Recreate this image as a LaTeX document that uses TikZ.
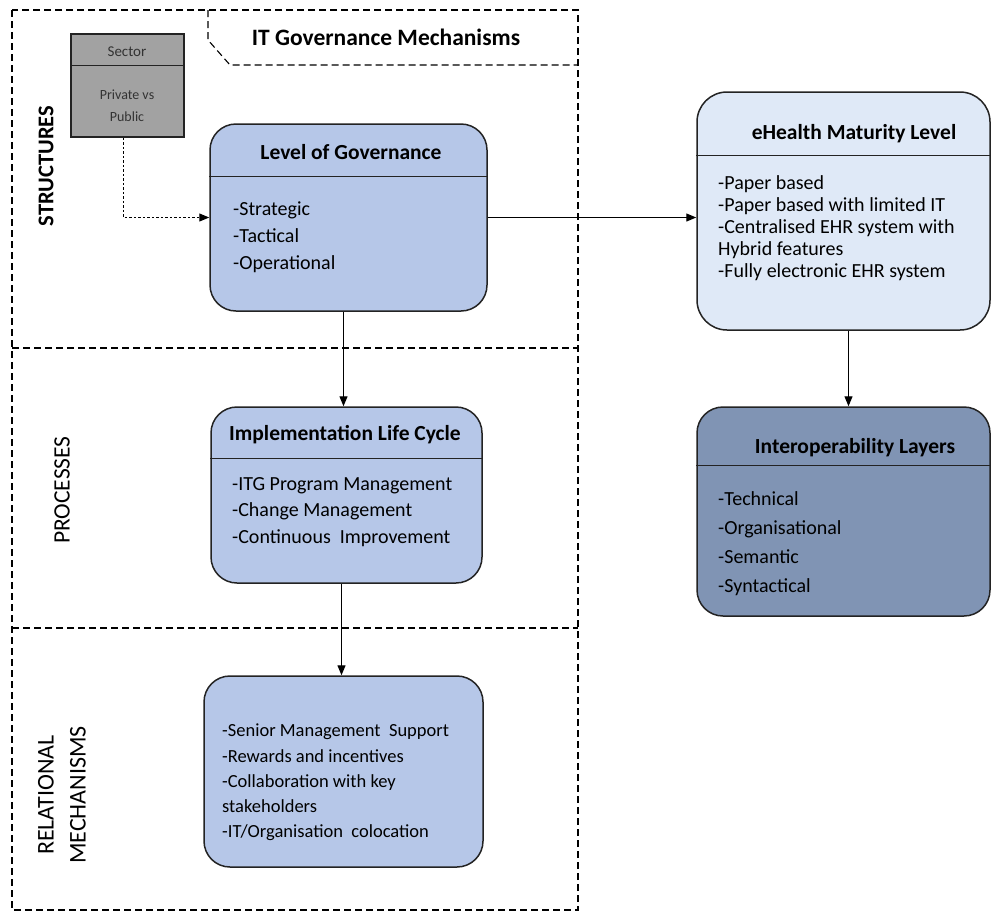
\documentclass[tikz,border=0pt]{standalone}
\usepackage{fontspec}
\setmainfont{Carlito}
\usetikzlibrary{arrows.meta}
\definecolor{boxblue}{RGB}{182,199,232}
\definecolor{lightblue}{RGB}{223,233,247}
\definecolor{slateblue}{RGB}{128,148,180}
\definecolor{sectorgray}{RGB}{162,162,162}
\definecolor{edge}{RGB}{35,35,35}
\tikzset{
  frame/.style={draw=black, line width=1.1pt, dash pattern=on 7pt off 4pt},
  roundbox/.style={draw=edge, line width=1.5pt, rounded corners=26pt, inner sep=0pt},
  hline/.style={draw=edge, line width=1.3pt},
  boxtitle/.style={inner sep=0pt, font=\fontsize{21.5}{24}\selectfont\bfseries},
  items/.style={anchor=north west, inner sep=0pt, align=left},
  sidelabel/.style={rotate=90, inner sep=0pt, align=center, font=\fontsize{24}{32}\selectfont},
  flow/.style={draw=black, line width=1.2pt, -{Triangle[length=10pt,width=8pt]}},
  dotflow/.style={draw=black, line width=1.1pt, dash pattern=on 2.5pt off 2pt, -{Triangle[length=10pt,width=8pt]}}
}
\begin{document}
\begin{tikzpicture}[x=1pt,y=-1pt]
\useasboundingbox (0,0) rectangle (992,922);
\fill[white] (0,0) rectangle (992,922);

% outer dashed frame and sections
\draw[frame] (12,10) rectangle (578,910);
\draw[frame] (208,10) -- (208,40) -- (230,65) -- (578,65);
\draw[frame] (12,348) -- (578,348);
\draw[frame] (12,628) -- (578,628);
\node[inner sep=0pt, font=\fontsize{23.5}{28}\selectfont\bfseries] (ittitle) at (386,37) {IT Governance Mechanisms};

% side labels
\node[sidelabel, font=\fontsize{22.5}{32}\selectfont\bfseries] (lstruct) at (46,166) {STRUCTURES};
\node[sidelabel, font=\fontsize{23.5}{32}\selectfont] (lproc) at (62,490) {PROCESSES};
\node[sidelabel] (lrel) at (62,795) {RELATIONAL\\MECHANISMS};

% sector box
\node[draw=edge, line width=1.5pt, fill=sectorgray, minimum width=113pt, minimum height=103pt, inner sep=0pt] (sector) at (127.5,85.5) {};
\draw[hline] ([yshift=-32pt]sector.north west) -- ([yshift=-32pt]sector.north east);
\node[inner sep=0pt, text=black!80, font=\fontsize{15}{18}\selectfont] (sectort) at (127,52) {Sector};
\node[inner sep=0pt, text=black!80, align=center, font=\fontsize{14}{22}\selectfont] (sectori) at (127,106) {Private vs\\Public};

% level of governance
\node[roundbox, fill=boxblue, minimum width=277pt, minimum height=187pt] (log) at (348.5,217.5) {};
\draw[hline] ([yshift=-53pt]log.north west) -- ([yshift=-53pt]log.north east);
\node[boxtitle] (logt) at (351,152) {Level of Governance};
\node[items, font=\fontsize{20}{27}\selectfont] (logi) at (233,202) {-Strategic\\-Tactical\\-Operational};

% implementation life cycle
\node[roundbox, fill=boxblue, minimum width=271pt, minimum height=176pt] (impl) at (346.5,495) {};
\draw[hline] ([yshift=-52pt]impl.north west) -- ([yshift=-52pt]impl.north east);
\node[boxtitle] (implt) at (345,435) {Implementation Life Cycle};
\node[items, font=\fontsize{20}{26.5}\selectfont] (impli) at (232,477) {-ITG Program Management\\-Change Management\\-Continuous\ \ Improvement};

% relational mechanisms box
\node[roundbox, fill=boxblue, minimum width=279pt, minimum height=191pt] (rel) at (343.5,771.5) {};
\node[items, font=\fontsize{18.5}{25.2}\selectfont] (reli) at (222,724) {-Senior Management\ \ Support\\-Rewards and incentives\\-Collaboration with key\\stakeholders\\-IT/Organisation\ \ colocation};

% eHealth maturity level
\node[roundbox, rounded corners=30pt, fill=lightblue, minimum width=293pt, minimum height=238pt] (ehealth) at (843.5,211) {};
\draw[hline] ([yshift=-64pt]ehealth.north west) -- ([yshift=-64pt]ehealth.north east);
\node[boxtitle] (eht) at (854,134) {eHealth Maturity Level};
\node[items, font=\fontsize{20}{22}\selectfont] (ehi) at (718,175) {-Paper based\\-Paper based with limited IT\\-Centralised EHR system with\\Hybrid features\\-Fully electronic EHR system};

% interoperability layers
\node[roundbox, fill=slateblue, minimum width=293pt, minimum height=209pt] (interop) at (843.5,511.5) {};
\draw[hline] ([yshift=-59pt]interop.north west) -- ([yshift=-59pt]interop.north east);
\node[boxtitle] (iot) at (855,448) {Interoperability Layers};
\node[items, font=\fontsize{20}{29}\selectfont] (ioi) at (718,491) {-Technical\\-Organisational\\-Semantic\\-Syntactical};

% connectors
\draw[dotflow] ([xshift=-4pt]sector.south) |- (log.west);
\draw[flow] (log.east) -- (log.east -| ehealth.west);
\draw[flow] ([xshift=-5pt]log.south) -- ([xshift=-5pt]log.south |- impl.north);
\draw[flow] ([xshift=-5pt]impl.south) -- ([xshift=-5pt]impl.south |- rel.north);
\draw[flow] ([xshift=5pt]ehealth.south) -- ([xshift=5pt]ehealth.south |- interop.north);
\end{tikzpicture}
\end{document}
